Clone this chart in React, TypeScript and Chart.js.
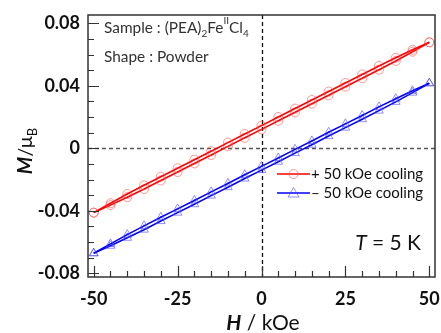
import React, { useEffect, useRef } from "react";
import { Chart, registerables } from "chart.js";
Chart.register(...registerables);

const fieldKOe = [-50, -45, -40, -35, -30, -25, -20, -15, -10, -5, 0, 5, 10, 15, 20, 25, 30, 35, 40, 45, 50];
const redUp = [-0.0412, -0.0352, -0.0293, -0.0237, -0.0182, -0.0128, -0.0073, -0.0019, 0.0036, 0.0091, 0.0145, 0.02, 0.0254, 0.0309, 0.0363, 0.0418, 0.0472, 0.0527, 0.0579, 0.063, 0.0678];
const redDown = [-0.0412, -0.0364, -0.0313, -0.0261, -0.0206, -0.0152, -0.0097, -0.0043, 0.0012, 0.0067, 0.0121, 0.0176, 0.023, 0.0285, 0.0339, 0.0394, 0.0448, 0.0503, 0.0559, 0.0618, 0.0678];
const blueUp = [-0.0672, -0.0612, -0.0553, -0.0497, -0.0442, -0.0388, -0.0334, -0.0279, -0.0225, -0.017, -0.0116, -0.0062, -0.0007, 0.0047, 0.0102, 0.0156, 0.021, 0.0265, 0.0317, 0.0368, 0.0416];
const blueDown = [-0.0672, -0.0624, -0.0573, -0.0521, -0.0466, -0.0412, -0.0358, -0.0303, -0.0249, -0.0194, -0.014, -0.0086, -0.0031, 0.0023, 0.0078, 0.0132, 0.0186, 0.0241, 0.0297, 0.0356, 0.0416];

const xTicks = [-50, -25, 0, 25, 50];
const xTickLabels = ["-50", "-25", "0", "25", "50"];
const xMinor = [-45, -40, -35, -30, -20, -15, -10, -5, 5, 10, 15, 20, 30, 35, 40, 45];
const yTicks = [-0.08, -0.04, 0, 0.04, 0.08];
const yTickLabels = ["-0.08", "-0.04", "0", "0.04", "0.08"];
const yMinor = [-0.07, -0.06, -0.05, -0.03, -0.02, -0.01, 0.01, 0.02, 0.03, 0.05, 0.06, 0.07];

const legendLabels = ["+ 50 kOe cooling", "\u2013 50 kOe cooling"];

const FONT = "Lato, 'Open Sans', sans-serif";
const RED = "#ff0000";
const BLUE = "#0000ff";
const RED_MK = "rgba(255,70,70,0.55)";
const BLUE_MK = "rgba(70,70,255,0.6)";

type Part = { t: string; f: string; dy?: number };

function drawRich(ctx: CanvasRenderingContext2D, x: number, y: number, parts: Part[], align: "left" | "center" | "right") {
  let w = 0;
  for (const p of parts) {
    ctx.font = p.f;
    w += ctx.measureText(p.t).width;
  }
  let cx = align === "left" ? x : align === "center" ? x - w / 2 : x - w;
  ctx.textAlign = "left";
  ctx.textBaseline = "alphabetic";
  for (const p of parts) {
    ctx.font = p.f;
    ctx.fillText(p.t, cx, y + (p.dy || 0));
    cx += ctx.measureText(p.t).width;
  }
}

const deco = {
  id: "deco",
  beforeDatasetsDraw(chart: any) {
    const { ctx, chartArea: a, scales } = chart;
    const x = scales.x, y = scales.y;
    ctx.save();
    ctx.setLineDash([4, 3]);
    ctx.lineWidth = 1.3;
    ctx.strokeStyle = "#111";
    const x0 = Math.round(x.getPixelForValue(0)) + 0.5;
    ctx.beginPath(); ctx.moveTo(x0, a.top); ctx.lineTo(x0, a.bottom); ctx.stroke();
    const y0 = Math.round(y.getPixelForValue(0)) + 0.5;
    ctx.strokeStyle = "#555";
    ctx.beginPath(); ctx.moveTo(a.left, y0); ctx.lineTo(a.right, y0); ctx.stroke();
    ctx.restore();
  },
  afterDraw(chart: any) {
    const { ctx, chartArea: a, scales } = chart;
    const x = scales.x, y = scales.y;
    ctx.save();
    // frame
    ctx.strokeStyle = "#333";
    ctx.lineWidth = 1.5;
    ctx.strokeRect(a.left, a.top, a.right - a.left, a.bottom - a.top);
    // ticks (inward)
    ctx.lineWidth = 1.2;
    ctx.beginPath();
    for (const v of xTicks) {
      const px = Math.round(x.getPixelForValue(v)) + 0.5;
      ctx.moveTo(px, a.bottom); ctx.lineTo(px, a.bottom - 11);
    }
    for (const v of xMinor) {
      const px = Math.round(x.getPixelForValue(v)) + 0.5;
      ctx.moveTo(px, a.bottom); ctx.lineTo(px, a.bottom - 6);
    }
    for (const v of yTicks) {
      const py = Math.round(y.getPixelForValue(v)) + 0.5;
      ctx.moveTo(a.left, py); ctx.lineTo(a.left + 11, py);
    }
    for (const v of yMinor) {
      const py = Math.round(y.getPixelForValue(v)) + 0.5;
      ctx.moveTo(a.left, py); ctx.lineTo(a.left + 6, py);
    }
    ctx.stroke();

    // annotation texts
    ctx.fillStyle = "#333";
    drawRich(ctx, 104, 33, [
      { t: "Sample : (PEA)", f: `15.4px ${FONT}` },
      { t: "2", f: `10px ${FONT}`, dy: 4 },
      { t: "Fe", f: `15.4px ${FONT}` },
      { t: "II", f: `10px ${FONT}`, dy: -9 },
      { t: "Cl", f: `15.4px ${FONT}` },
      { t: "4", f: `10px ${FONT}`, dy: 4 },
    ], "left");
    drawRich(ctx, 104, 62, [{ t: "Shape : Powder", f: `15.4px ${FONT}` }], "left");

    ctx.fillStyle = "#111";
    drawRich(ctx, 421, 250, [
      { t: "T", f: `italic 21px ${FONT}` },
      { t: " = 5 K", f: `21px ${FONT}` },
    ], "right");

    // legend
    const legend = [
      { c: RED, mk: RED_MK, style: "circle", y: 174 },
      { c: BLUE, mk: BLUE_MK, style: "triangle", y: 193 },
    ];
    legend.forEach((l, i) => {
      ctx.strokeStyle = l.c;
      ctx.lineWidth = 1.6;
      ctx.beginPath(); ctx.moveTo(277, l.y); ctx.lineTo(310, l.y); ctx.stroke();
      ctx.strokeStyle = l.mk;
      ctx.lineWidth = 1;
      ctx.beginPath();
      if (l.style === "circle") {
        ctx.arc(293.5, l.y, 4.5, 0, Math.PI * 2);
      } else {
        ctx.moveTo(293.5, l.y - 5.5); ctx.lineTo(299, l.y + 4); ctx.lineTo(288, l.y + 4); ctx.closePath();
      }
      ctx.stroke();
      ctx.fillStyle = "#111";
      drawRich(ctx, 311, l.y + 5, [{ t: legendLabels[i], f: `15px ${FONT}` }], "left");
    });

    // axis titles
    ctx.fillStyle = "#111";
    drawRich(ctx, 263, 330, [
      { t: "H", f: `bold italic 21px ${FONT}` },
      { t: " / kOe", f: `21px ${FONT}` },
    ], "center");
    ctx.save();
    ctx.translate(32, 151);
    ctx.rotate(-Math.PI / 2);
    drawRich(ctx, 0, 0, [
      { t: "M", f: `bold italic 20px ${FONT}` },
      { t: "/\u03bc", f: `20px ${FONT}` },
      { t: "B", f: `13px ${FONT}`, dy: 5 },
    ], "center");
    ctx.restore();
    ctx.restore();
  },
};

function pts(ys: number[]) {
  return fieldKOe.map((v, i) => ({ x: v, y: ys[i] }));
}

export default function App() {
  const ref = useRef<HTMLCanvasElement>(null);
  useEffect(() => {
    document.body.style.margin = "0";
    const canvas = ref.current!;
    const mk = (data: number[], c: string, m: string, style: string, r: number) => ({
      data: pts(data),
      borderColor: c,
      borderWidth: 1.6,
      pointStyle: style,
      pointRadius: r,
      pointBorderColor: m,
      pointBackgroundColor: "rgba(0,0,0,0)",
      pointBorderWidth: 1,
      fill: false,
      tension: 0,
    });
    const chart = new Chart(canvas, {
      type: "line",
      data: {
        datasets: [
          mk(redUp, RED, RED_MK, "circle", 4.5),
          mk(redDown, RED, RED_MK, "circle", 4.5),
          mk(blueUp, BLUE, BLUE_MK, "triangle", 5),
          mk(blueDown, BLUE, BLUE_MK, "triangle", 5),
        ] as any,
      },
      options: {
        animation: false,
        responsive: false,
        devicePixelRatio: 1,
        layout: { padding: { top: 15, right: 6, left: 0, bottom: 0 } },
        plugins: { legend: { display: false }, tooltip: { enabled: false } },
        scales: {
          x: {
            type: "linear",
            min: -51.7,
            max: 51.7,
            grid: { display: false, drawTicks: false },
            border: { display: false },
            afterBuildTicks: (s: any) => { s.ticks = xTicks.map((v) => ({ value: v })); },
            afterFit: (s: any) => { s.height = 56; s.paddingLeft = 0; s.paddingRight = 0; },
            ticks: {
              padding: 11,
              color: "#111",
              font: { family: FONT, size: 18, weight: "bold" },
              callback: (_v: any, i: number) => xTickLabels[i],
            },
          },
          y: {
            type: "linear",
            min: -0.0824,
            max: 0.0853,
            grid: { display: false, drawTicks: false },
            border: { display: false },
            afterBuildTicks: (s: any) => { s.ticks = yTicks.map((v) => ({ value: v })); },
            afterFit: (s: any) => { s.width = 88; s.paddingTop = 0; s.paddingBottom = 0; },
            ticks: {
              padding: 8,
              color: "#111",
              font: { family: FONT, size: 18, weight: "bold" },
              callback: (_v: any, i: number) => yTickLabels[i],
            },
          },
        },
      } as any,
      plugins: [deco],
    });
    return () => chart.destroy();
  }, []);
  return (
    <div style={{ position: "absolute", left: 0, top: 0, width: 441, height: 333 }}>
      <canvas ref={ref} width={441} height={333} />
    </div>
  );
}
